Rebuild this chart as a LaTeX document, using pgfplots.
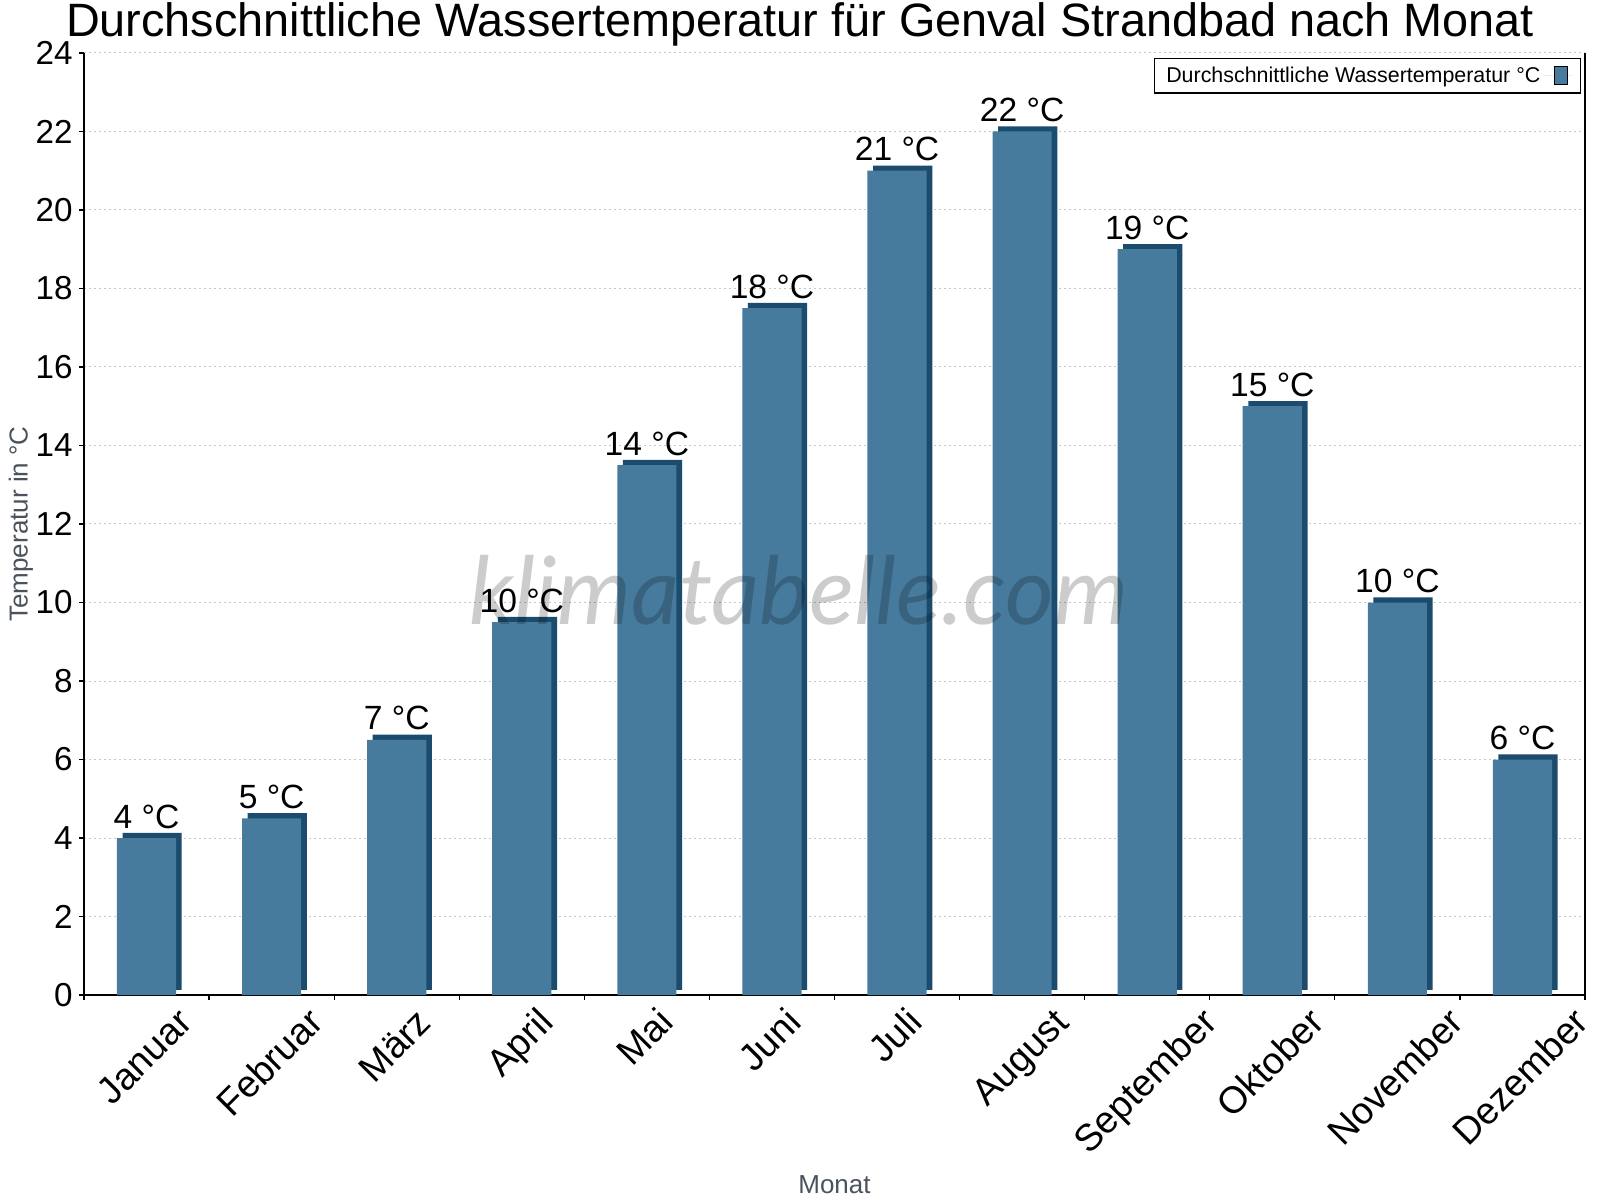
\documentclass[border=0pt]{standalone}
\usepackage{fontspec}
\setmainfont{Liberation Sans}
\newfontfamily\wmfont{Lato}
\usepackage{pgfplots}
\usepackage{pgfplotstable}
\pgfplotsset{compat=1.18}

\definecolor{barfront}{HTML}{467B9E}
\definecolor{barside}{HTML}{1B4C6E}
\definecolor{labgray}{HTML}{4A525C}

% rotated month label: centred under its bar, top edge on a fixed line
\newlength\labw
\newcommand\lab[1]{\settowidth\labw{#1}%
  \raisebox{-0.25\labw}[0.72em][0.21em]{\makebox[0pt][c]{\hspace*{-0.5\labw}#1}}}

% month index, mean water temperature, rounded label
\pgfplotstableread{
x  y    lab
0  4    4
1  4.5  5
2  6.5  7
3  9.5  10
4  13.5 14
5  17.5 18
6  21   21
7  22   22
8  19   19
9  15   15
10 10   10
11 6    6
}\temps

\begin{document}
\begin{tikzpicture}
\useasboundingbox (0,0) rectangle (800pt,600pt);
\begin{axis}[
    at={(42pt,102.5pt)}, anchor=south west,
    scale only axis, width=750.5pt, height=471pt,
    xmin=-0.5, xmax=11.5, ymin=0, ymax=24,
    ytick={0,2,...,24},
    xtick={-0.5,0.5,...,11.5},
    x tick label as interval,
    xticklabels={\lab{Januar},\lab{Februar},\lab{März},\lab{April},\lab{Mai},\lab{Juni},\lab{Juli},\lab{August},\lab{September},\lab{Oktober},\lab{November},\lab{Dezember}},
    axis x line*=bottom, axis y line*=left,
    tick align=outside, major tick length=2.5pt,
    tick style={black, line width=0.6pt},
    axis line style={line width=0.6pt},
    ymajorgrids,
    grid style={gray!45, dash pattern=on 1pt off 1.5pt, line width=0.5pt},
    /pgf/number format/assume math mode=true,
    yticklabel style={font=\fontsize{16.6}{19}\selectfont, inner sep=3pt},
    xticklabel style={font=\fontsize{18.8}{22}\selectfont, xshift=-6.2pt, yshift=-2.8pt,
        rotate=45, anchor=north, inner sep=0pt},
    ylabel={Temperatur in °C},
    ylabel style={at={(axis description cs:-0.042,0.5)}, anchor=center, font=\fontsize{13}{15}\selectfont, text=labgray},
    xlabel={Monat},
    xlabel style={at={(axis description cs:0.5,-0.2102)}, anchor=base, font=\fontsize{13}{15}\selectfont, text=labgray},
    legend style={at={(0.9973,0.9947)}, anchor=north east, draw=black, line width=0.6pt,
        font=\fontsize{10.7}{12}\selectfont, inner xsep=4pt, inner ysep=2pt},
    legend plot pos=right,
    after end axis/.code={\draw[line width=0.6pt] (rel axis cs:1,0) -- (rel axis cs:1,1);},
]
\addplot[ybar, bar width=29.6pt, bar shift=0pt, fill=barside, draw=none,
    xshift=2.8pt, yshift=2.6pt, forget plot] table[x=x, y=y] {\temps};
\addplot[ybar, bar width=29.6pt, bar shift=0pt, fill=barfront, draw=none,
    point meta=explicit symbolic,
    nodes near coords={\pgfplotspointmeta{} °C},
    every node near coord/.append style={anchor=base, yshift=5pt, font=\fontsize{16.8}{19}\selectfont, text=black},
    legend image code/.code={\path (0pt,0pt) -- (14pt,0pt);
        \draw[fill=barfront, draw=black, line width=0.6pt] (5pt,-4.5pt) rectangle (11.5pt,4.5pt);}]
    table[x=x, y=y, meta=lab] {\temps};
\addlegendentry{Durchschnittliche Wassertemperatur °C}
\end{axis}
\node[anchor=base, font=\fontsize{23.4}{27}\selectfont] at (400pt,581.5pt)
    {Durchschnittliche Wassertemperatur für Genval Strandbad nach Monat};
\node[anchor=base, font=\wmfont\itshape\fontsize{47}{52}\selectfont, text=black, text opacity=0.2]
    at (399.5pt,287.5pt) {klimatabelle.com};
\end{tikzpicture}
\end{document}
